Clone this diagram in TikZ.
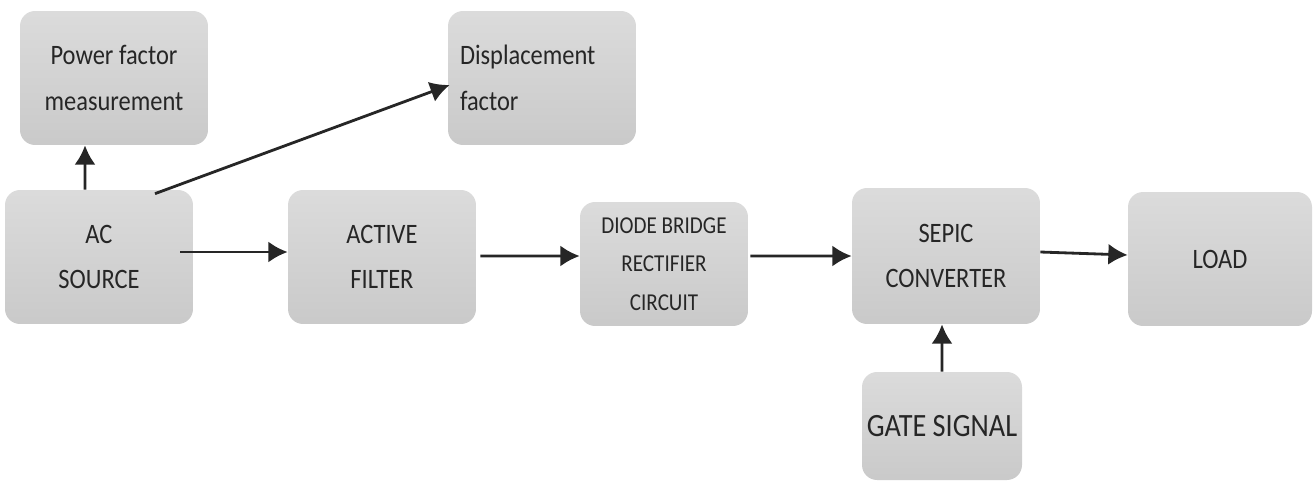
\documentclass[tikz,border=0pt]{standalone}
\usepackage{fontspec}
\setmainfont{Carlito}[FakeStretch=0.87]
\usetikzlibrary{arrows.meta}

\begin{document}
\begin{tikzpicture}[x=0.02cm,y=-0.02cm,
    blok/.style={rounded corners=0.3cm, top color=gray!28, bottom color=gray!42, align=center,
      minimum width=3.76cm, minimum height=2.68cm, inner sep=0pt, text=black!85,
      font=\fontsize{16}{26}\selectfont},
    pijl/.style={-{Latex[length=11pt,width=12pt]}, line width=1.6pt, draw=black!85}]
    \useasboundingbox (0,0) rectangle (1314,484);
    \node[blok] (pfm) at (114,78) {Power factor\\measurement};
    \node[blok, text width=3.28cm, align=left, inner xsep=0.24cm] (disp) at (542,78) {Displacement\\factor};
    \node[blok] (ac) at (99,257) {AC\\SOURCE};
    \node[blok] (af) at (382,257) {ACTIVE\\FILTER};
    \node[blok, minimum width=3.36cm, minimum height=2.48cm, font=\fontsize{13.8}{22}\selectfont] (dbr) at (664,264) {DIODE BRIDGE\\RECTIFIER\\CIRCUIT};
    \node[blok, minimum height=2.72cm] (sepic) at (946,256) {SEPIC\\CONVERTER};
    \node[blok, minimum width=3.68cm] (load) at (1220,259) {LOAD};
    \node[blok, minimum width=3.2cm, minimum height=2.16cm, font=\fontsize{18.5}{20}\selectfont] (gate) at (942,426) {GATE SIGNAL};
    \draw[pijl] ([xshift=-0.28cm]ac.north) -- ([xshift=-0.58cm]pfm.south);
    \draw[pijl] ([xshift=1.12cm,yshift=-0.08cm]ac.north) -- ([xshift=0.04cm,yshift=-0.14cm]disp.west);
    \draw[pijl] ([xshift=-0.26cm,yshift=0.1cm]ac.east) -- ([yshift=0.1cm]af.west);
    \draw[pijl] ([xshift=0.08cm,yshift=0.02cm]af.east) -- ([yshift=0.16cm]dbr.west);
    \draw[pijl] ([xshift=0.04cm,yshift=0.16cm]dbr.east) -- ([yshift=0cm]sepic.west);
    \draw[pijl] ([yshift=0.08cm]sepic.east) -- ([yshift=0.08cm]load.west);
    \draw[pijl] (gate.north) -- ([xshift=-0.08cm]sepic.south);
\end{tikzpicture}
\end{document}
